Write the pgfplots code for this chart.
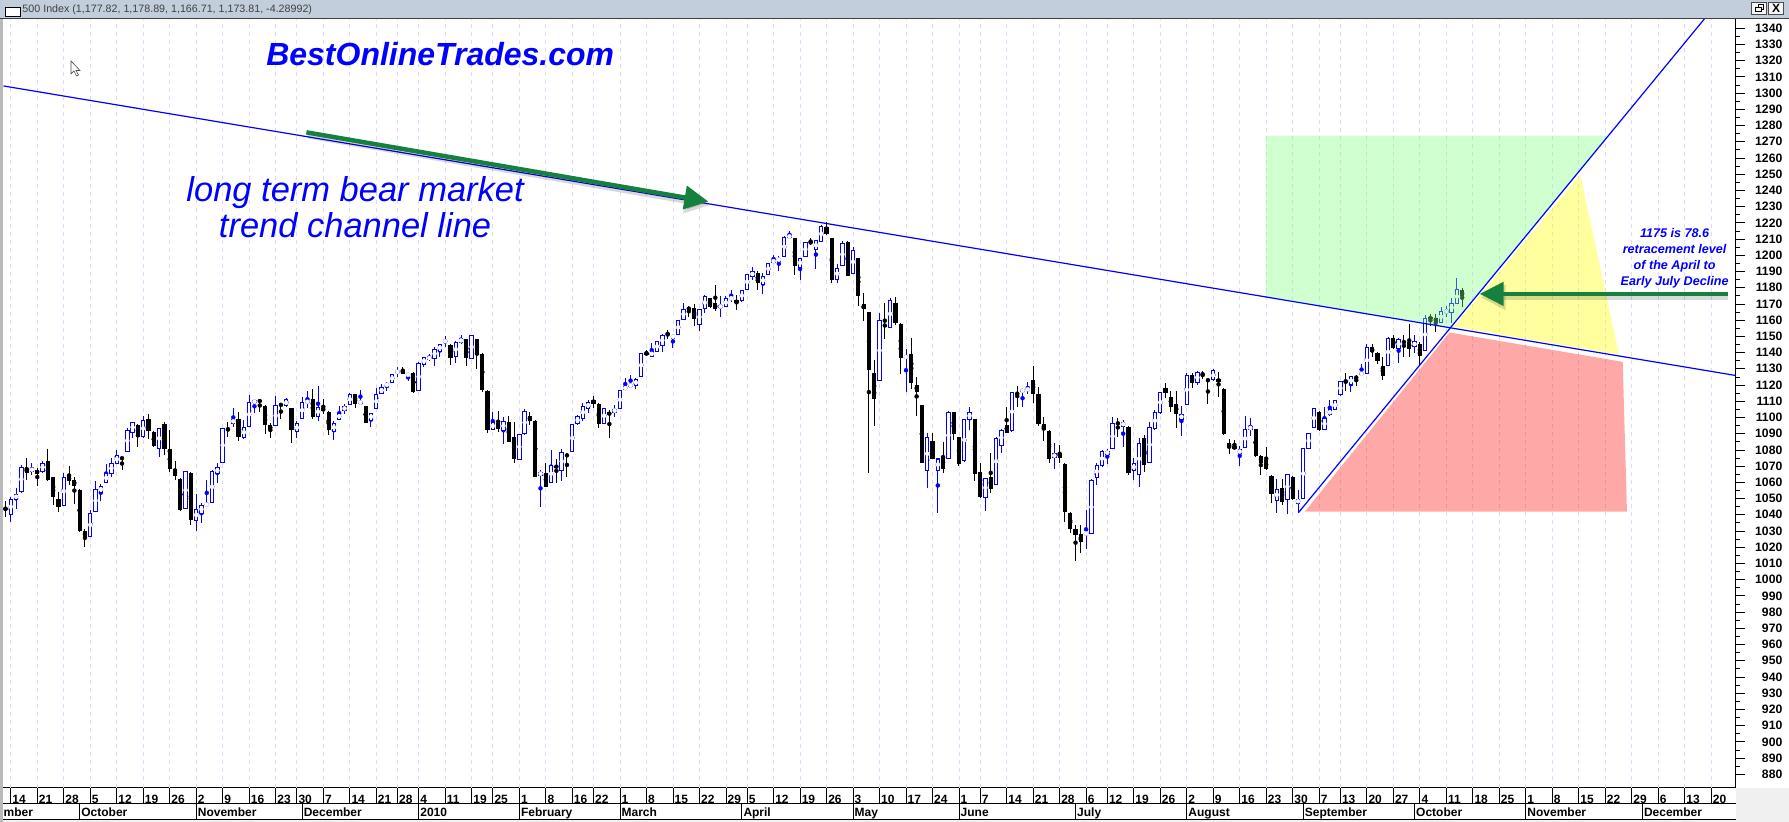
\documentclass[border=0pt]{standalone}
\usepackage{fontspec}
\setmainfont{Liberation Sans}
\usepackage{pgfplots}
\usepackage{pgfplotstable}
\pgfplotsset{compat=1.18}
\usetikzlibrary{arrows.meta}

\definecolor{candleblue}{RGB}{0,0,255}
\definecolor{arrowgreen}{RGB}{22,128,62}
\definecolor{gridlav}{RGB}{220,220,250}
\definecolor{titlebar}{RGB}{194,206,220}
\definecolor{zonegreen}{RGB}{128,255,128}
\definecolor{zonered}{RGB}{255,20,20}
\definecolor{zoneyellow}{RGB}{255,255,0}

% t = trading day (0 = Mon 14 Sep 2009), o h l c
\pgfplotstableread{
t o h l c
0 1040.3 1051.2 1035.8 1049.6
1 1049.6 1056.4 1043.8 1052.7
2 1054.5 1070.8 1053.7 1069.3
4 1066.9 1071.8 1064.6 1068.7
6 1066.9 1073.4 1066.0 1071.8
10 1045.9 1065.6 1045.5 1063.2
15 1026.6 1043.0 1026.0 1041.0
16 1042.2 1060.9 1041.5 1055.3
17 1053.9 1059.0 1048.2 1057.6
18 1059.9 1071.4 1059.5 1065.6
19 1065.6 1074.9 1063.2 1071.8
20 1071.8 1080.0 1071.4 1076.7
22 1079.2 1093.8 1079.0 1092.1
23 1090.9 1097.5 1087.2 1097.1
25 1088.2 1101.0 1087.2 1098.3
28 1080.8 1093.8 1075.5 1093.4
33 1044.0 1066.9 1043.6 1066.4
35 1036.4 1052.7 1030.3 1043.4
36 1041.0 1047.1 1034.8 1045.9
37 1045.9 1061.5 1045.5 1046.7
38 1047.5 1067.7 1047.2 1066.9
39 1065.2 1071.8 1059.9 1069.3
40 1072.4 1093.8 1072.0 1093.4
42 1096.4 1105.7 1094.4 1098.9
44 1087.8 1098.3 1086.6 1094.0
45 1094.4 1114.1 1094.0 1109.4
46 1109.2 1110.8 1103.0 1110.4
50 1095.2 1113.3 1094.8 1107.1
52 1107.1 1112.1 1106.7 1111.0
54 1091.5 1097.9 1087.2 1096.0
55 1099.5 1112.5 1099.0 1109.4
56 1109.4 1116.4 1106.1 1110.0
58 1100.7 1119.2 1097.7 1106.3
61 1091.5 1097.9 1086.4 1096.4
62 1098.9 1106.9 1098.5 1102.6
63 1104.4 1108.6 1102.2 1106.7
64 1108.1 1115.1 1107.7 1114.3
66 1109.0 1117.0 1108.7 1109.4
68 1098.3 1103.0 1094.4 1102.6
69 1105.7 1118.4 1105.3 1114.3
70 1114.9 1120.7 1114.5 1118.6
71 1119.2 1122.1 1116.6 1121.1
72 1121.7 1127.0 1121.3 1126.6
73 1127.7 1131.4 1124.8 1128.5
75 1126.0 1127.0 1122.5 1126.6
77 1116.8 1134.4 1116.4 1133.4
78 1132.8 1137.5 1131.0 1136.9
79 1135.9 1139.2 1134.9 1137.5
80 1136.5 1143.3 1132.0 1142.1
81 1140.8 1145.5 1137.1 1145.1
82 1146.4 1150.3 1143.3 1147.6
84 1137.5 1147.4 1133.8 1146.4
85 1146.4 1150.9 1145.1 1148.6
87 1136.3 1150.9 1136.0 1150.5
91 1092.7 1103.2 1092.3 1096.8
93 1091.9 1100.5 1083.7 1097.7
96 1074.2 1090.0 1073.8 1089.6
97 1090.1 1105.1 1089.0 1103.8
100 1064.4 1067.5 1045.1 1066.2
102 1060.1 1079.8 1059.7 1070.5
104 1067.5 1080.4 1061.1 1078.5
106 1079.2 1095.8 1078.8 1095.4
107 1096.4 1101.8 1095.6 1100.3
108 1099.5 1108.8 1098.1 1106.9
109 1105.7 1110.9 1102.6 1109.4
112 1096.3 1106.1 1095.9 1105.7
114 1103.3 1107.8 1100.2 1105.1
115 1105.5 1117.0 1105.1 1116.4
116 1117.4 1124.2 1117.0 1118.9
117 1119.5 1126.3 1119.1 1119.9
118 1119.5 1124.2 1117.4 1123.6
119 1125.3 1139.6 1125.0 1139.2
121 1137.6 1145.8 1137.2 1140.9
122 1140.9 1147.0 1140.5 1146.6
123 1144.4 1151.6 1140.3 1150.7
125 1148.9 1151.1 1142.7 1150.7
126 1151.1 1160.4 1150.7 1160.0
127 1160.6 1170.5 1160.2 1166.8
130 1157.5 1166.8 1153.6 1166.4
131 1167.0 1175.6 1164.7 1174.8
134 1168.0 1174.6 1162.2 1168.8
135 1168.2 1175.0 1168.0 1173.5
136 1173.2 1178.7 1171.5 1173.8
138 1171.9 1178.9 1171.5 1178.5
139 1178.9 1188.7 1178.5 1188.3
140 1186.7 1192.7 1184.8 1190.2
142 1182.2 1189.0 1176.0 1186.9
143 1188.3 1195.5 1188.0 1195.1
144 1195.7 1200.1 1195.3 1197.0
145 1196.4 1199.6 1190.0 1198.2
146 1199.4 1211.6 1199.0 1211.2
147 1210.9 1214.9 1210.5 1212.4
149 1192.7 1198.4 1184.8 1198.0
150 1199.4 1208.5 1199.0 1208.1
152 1203.3 1209.5 1191.4 1209.1
153 1208.7 1218.8 1208.3 1217.7
156 1185.3 1194.7 1182.8 1192.0
157 1193.7 1209.1 1193.3 1207.5
159 1189.0 1205.4 1188.6 1202.9
164 1122.9 1164.3 1122.5 1159.7
166 1155.6 1173.5 1155.2 1172.1
169 1137.0 1142.3 1116.0 1137.6
173 1067.5 1090.5 1056.8 1087.8
175 1067.5 1074.8 1041.4 1074.4
177 1074.8 1103.8 1074.4 1103.2
180 1073.4 1099.3 1072.8 1098.9
181 1098.9 1106.7 1092.3 1103.2
184 1050.8 1062.9 1042.6 1062.5
186 1058.8 1088.2 1058.4 1087.2
187 1082.9 1092.9 1077.9 1092.1
189 1091.7 1115.9 1091.3 1115.5
191 1116.2 1117.0 1106.7 1116.8
192 1116.6 1121.9 1114.5 1118.2
197 1075.5 1084.5 1068.5 1077.5
203 1028.3 1043.0 1019.0 1028.6
204 1028.6 1061.9 1028.2 1060.9
205 1062.9 1071.8 1058.4 1070.5
206 1070.5 1080.0 1069.7 1078.8
207 1077.3 1080.6 1071.2 1079.2
208 1080.8 1100.3 1080.4 1096.0
210 1094.6 1098.5 1081.6 1097.1
212 1067.0 1074.8 1061.5 1071.8
213 1065.0 1087.2 1057.4 1084.1
215 1072.4 1097.5 1072.0 1094.0
216 1092.9 1104.7 1092.5 1103.2
217 1103.2 1116.0 1102.0 1115.6
221 1098.9 1107.1 1088.6 1102.0
222 1108.2 1127.7 1107.8 1126.0
224 1121.5 1128.7 1120.1 1127.7
227 1123.2 1129.9 1122.8 1128.7
232 1078.0 1082.5 1070.1 1080.0
233 1081.4 1101.0 1081.0 1092.7
234 1092.7 1099.9 1088.6 1094.4
239 1048.8 1061.9 1041.0 1055.8
241 1049.6 1065.4 1040.5 1065.0
243 1047.1 1055.3 1041.4 1049.6
244 1050.2 1081.4 1049.8 1080.6
245 1081.0 1090.7 1080.6 1090.3
246 1094.0 1105.7 1093.6 1105.3
248 1092.7 1106.7 1092.3 1099.5
249 1101.6 1110.8 1101.2 1104.7
250 1105.1 1111.0 1104.7 1110.2
251 1113.9 1122.5 1113.5 1122.1
253 1120.1 1125.6 1115.4 1125.2
255 1126.7 1132.8 1126.3 1127.1
256 1127.3 1145.4 1126.9 1143.3
260 1132.0 1149.8 1131.6 1148.8
262 1142.5 1149.0 1133.4 1148.2
265 1143.7 1150.9 1139.6 1146.8
267 1141.2 1163.2 1140.8 1161.2
270 1158.8 1168.4 1158.1 1165.3
271 1165.2 1168.7 1162.0 1165.5
272 1164.9 1173.5 1158.1 1170.5
273 1170.5 1185.9 1170.1 1178.7
}\upcandles

\pgfplotstableread{
t o h l c
-1 1044.3 1048.2 1038.9 1043.3
3 1068.3 1074.9 1061.5 1066.0
5 1067.5 1068.7 1057.8 1065.4
7 1073.2 1080.4 1061.0 1061.5
8 1063.2 1063.6 1046.3 1051.2
9 1049.8 1054.1 1042.0 1045.1
11 1064.0 1070.1 1058.4 1061.1
12 1061.5 1063.2 1046.7 1057.8
13 1055.3 1055.8 1029.5 1030.3
14 1030.1 1031.1 1020.4 1026.0
21 1075.5 1075.9 1067.3 1074.3
24 1095.4 1095.8 1082.1 1088.2
26 1099.1 1102.2 1086.8 1091.9
27 1091.1 1091.5 1081.7 1082.1
29 1096.0 1097.1 1076.9 1080.4
30 1080.4 1092.3 1066.2 1068.1
31 1068.1 1073.2 1061.5 1064.2
32 1062.1 1062.5 1042.6 1043.0
34 1065.8 1066.2 1033.8 1036.9
41 1093.0 1097.1 1088.2 1092.4
43 1098.9 1103.4 1085.6 1088.2
47 1110.4 1111.2 1103.6 1109.9
48 1107.1 1107.5 1089.5 1095.6
49 1095.4 1096.9 1087.6 1092.0
51 1108.0 1108.4 1098.9 1107.6
53 1105.7 1106.0 1084.5 1092.3
57 1111.2 1117.6 1099.3 1100.5
59 1105.7 1111.2 1102.0 1104.2
60 1103.4 1103.8 1089.2 1092.3
65 1114.3 1114.7 1106.1 1108.6
67 1106.9 1107.3 1096.4 1096.8
74 1129.3 1131.2 1126.6 1127.0
76 1127.5 1128.3 1115.1 1116.0
83 1144.7 1145.0 1132.6 1136.9
86 1148.2 1148.6 1132.0 1136.9
88 1148.2 1148.6 1130.1 1138.6
89 1139.2 1139.6 1116.0 1117.0
90 1116.4 1116.8 1090.7 1092.5
92 1096.4 1104.0 1090.9 1092.9
94 1097.0 1100.9 1084.7 1085.1
95 1087.8 1097.0 1072.2 1074.6
98 1101.0 1103.4 1095.2 1097.9
99 1097.9 1098.3 1063.1 1063.5
101 1065.8 1072.0 1057.0 1057.4
103 1070.3 1074.4 1059.8 1069.1
105 1077.0 1078.0 1063.5 1076.3
110 1110.9 1113.3 1106.1 1108.6
111 1108.4 1108.8 1093.4 1095.9
113 1103.3 1104.7 1087.2 1101.4
120 1140.0 1141.7 1137.6 1138.8
124 1152.0 1154.0 1148.3 1151.1
128 1167.6 1168.8 1162.2 1166.6
129 1167.6 1170.1 1156.1 1161.0
132 1173.5 1173.9 1167.4 1168.2
133 1170.5 1181.8 1165.9 1166.6
137 1172.5 1175.6 1166.4 1170.3
141 1189.0 1190.6 1178.7 1183.2
148 1210.5 1210.9 1187.9 1193.1
151 1208.2 1210.5 1206.4 1207.6
154 1217.7 1220.4 1212.6 1213.2
155 1210.5 1210.9 1182.8 1184.8
158 1207.9 1209.1 1187.1 1187.5
160 1198.2 1198.6 1168.8 1174.6
161 1169.8 1176.6 1159.4 1166.8
162 1164.9 1165.3 1066.0 1129.0
163 1127.3 1135.5 1095.0 1111.6
165 1157.0 1170.8 1148.6 1156.4
167 1170.4 1174.1 1157.1 1158.5
168 1157.7 1158.1 1126.9 1136.5
170 1139.0 1148.8 1117.4 1121.5
171 1120.1 1124.8 1101.2 1116.0
172 1107.5 1107.9 1071.8 1072.2
174 1085.3 1090.5 1074.3 1074.7
176 1076.3 1085.1 1066.0 1068.5
178 1103.2 1103.6 1085.8 1090.1
179 1087.8 1088.2 1070.1 1071.6
182 1098.9 1099.3 1061.1 1065.4
183 1066.4 1072.2 1050.6 1051.2
185 1063.1 1078.4 1053.3 1056.2
188 1095.4 1106.3 1090.3 1090.7
190 1115.0 1119.7 1106.7 1114.4
193 1123.2 1131.8 1109.2 1114.3
194 1114.3 1118.6 1094.8 1096.0
195 1096.0 1100.5 1085.8 1092.3
196 1091.7 1092.1 1072.2 1074.7
198 1078.1 1083.1 1072.2 1075.3
199 1071.6 1072.0 1035.8 1042.0
200 1041.2 1041.6 1029.0 1031.5
201 1031.1 1033.8 1011.8 1027.6
202 1028.2 1033.6 1016.3 1023.3
209 1096.8 1099.5 1088.2 1096.0
211 1094.2 1094.6 1064.6 1065.6
214 1087.2 1089.2 1066.2 1070.5
218 1118.0 1121.5 1111.9 1114.9
219 1112.9 1116.4 1103.6 1106.7
220 1108.4 1116.4 1093.8 1102.2
223 1126.0 1127.7 1118.0 1121.5
225 1126.9 1128.7 1123.6 1126.5
226 1123.3 1123.8 1108.2 1122.7
228 1123.6 1128.3 1112.5 1122.1
229 1117.6 1118.0 1089.5 1089.9
230 1084.1 1086.6 1077.3 1081.6
231 1082.5 1086.2 1080.0 1080.4
235 1092.7 1093.1 1075.9 1076.3
236 1076.3 1076.7 1064.6 1072.2
237 1073.8 1081.6 1067.7 1068.1
238 1064.0 1064.4 1047.5 1052.7
240 1056.4 1061.9 1046.1 1048.1
242 1063.6 1064.0 1049.2 1049.6
247 1103.4 1103.8 1091.9 1092.3
252 1122.5 1127.7 1116.4 1122.1
254 1124.8 1126.2 1119.7 1124.4
257 1143.3 1145.4 1137.1 1140.6
258 1140.0 1140.4 1133.0 1135.1
259 1131.8 1137.5 1123.2 1125.8
261 1148.8 1150.9 1142.1 1143.1
263 1147.2 1150.9 1137.5 1145.8
264 1146.8 1157.5 1137.5 1142.1
266 1145.2 1146.8 1132.4 1138.2
268 1161.6 1163.6 1156.1 1161.0
269 1161.6 1164.0 1152.5 1159.0
274 1178.3 1179.7 1168.0 1174.6
}\downcandles

\newcommand{\labfont}{\fontsize{12}{12}\selectfont\bfseries}

\begin{document}
\begin{tikzpicture}
\begin{axis}[
  name=ax,
  scale only axis,
  width=1733pt, height=769pt,
  xmin=-1.377, xmax=325.6,
  ymin=871.8, ymax=1345.7,
  axis x line*=bottom,
  axis y line*=right,
  axis line style={black, line width=1pt},
  clip mode=individual,
  tick align=outside,
  tick style={black, line width=0.8pt},
  major tick length=9pt,
  minor tick length=4pt,
  xtick=\empty,
  extra x ticks={0,5,10,15,20,25,30,35,40,45,50,54,59,64,69,73,77,82,87,91,96,101,106,110,115,120,125,130,135,139,144,149,154,159,164,169,174,179,183,188,193,198,203,207,212,217,222,227,232,237,242,247,251,256,261,266,271,276,281,286,291,296,301,306,311,316,321},
  extra x tick labels={14,21,28,5,12,19,26,2,9,16,23,30,7,14,21,28,4,11,19,25,1,8,16,22,1,8,15,22,29,5,12,19,26,3,10,17,24,1,7,14,21,28,6,12,19,26,2,9,16,23,30,7,13,20,27,4,11,18,25,1,8,15,22,29,6,13,20},
  extra x tick style={major tick length=16pt, grid=major},
  major x grid style={gridlav, dash pattern=on 4pt off 4pt, line width=0.8pt},
  xticklabel style={font=\labfont, anchor=base west, inner sep=0pt, xshift=1.5pt},
  ytick={880,890,...,1340},
  minor y tick num=1,
  yticklabel style={font=\fontsize{12.2}{12}\selectfont\bfseries, anchor=east, inner sep=0pt, xshift=38pt},
  /pgf/number format/1000 sep={},
  /pgf/number format/assume math mode=true,
]
% down candles: wick + filled body
\addplot[black, only marks, mark=none, forget plot,
  error bars/.cd, y dir=both, y explicit, error mark=none,
  error bar style={black, line width=1pt}]
  table[x=t, y expr={(\thisrow{h}+\thisrow{l})/2}, y error expr={(\thisrow{h}-\thisrow{l})/2}] {\downcandles};
\addplot[black, only marks, mark=none, forget plot,
  error bars/.cd, y dir=both, y explicit, error mark=none,
  error bar style={black, line width=4.2pt}]
  table[x=t, y expr={(\thisrow{o}+\thisrow{c})/2}, y error expr={max((\thisrow{o}-\thisrow{c})/2,0.35)}] {\downcandles};
% up candles: wick + hollow blue body
\addplot[candleblue, only marks, mark=none, forget plot,
  error bars/.cd, y dir=both, y explicit, error mark=none,
  error bar style={candleblue, line width=1pt}]
  table[x=t, y expr={(\thisrow{h}+\thisrow{l})/2}, y error expr={(\thisrow{h}-\thisrow{l})/2}] {\upcandles};
\addplot[candleblue, only marks, mark=none, forget plot,
  error bars/.cd, y dir=both, y explicit, error mark=none,
  error bar style={candleblue, line width=4.4pt}]
  table[x=t, y expr={(\thisrow{o}+\thisrow{c})/2}, y error expr={(\thisrow{c}-\thisrow{o})/2+0.31}] {\upcandles};
\addplot[white, only marks, mark=none, forget plot,
  error bars/.cd, y dir=both, y explicit, error mark=none,
  error bar style={white, line width=2.4pt}]
  table[x=t, y expr={(\thisrow{o}+\thisrow{c})/2}, y error expr={max((\thisrow{c}-\thisrow{o})/2-0.31,0)}] {\upcandles};

% shaded zones
\addplot[draw=none, fill=zonegreen, fill opacity=0.37, forget plot]
  coordinates {(236.9,1273.8) (301.7,1273.8) (271.8,1155.6) (236.9,1174.6)};
\addplot[draw=none, fill=zoneyellow, fill opacity=0.38, forget plot]
  coordinates {(272.4,1155.9) (296.3,1249.5) (303.6,1138.8)};
\addplot[draw=none, fill=zonered, fill opacity=0.37, forget plot]
  coordinates {(244.3,1042.0) (305.1,1042.0) (304.3,1134.3) (271.6,1152.4)};

% trend lines
\addplot[candleblue, line width=1.2pt, forget plot] coordinates {(-1.377,1304.4) (325.6,1125.9)};
\addplot[candleblue, line width=1.2pt, forget plot] coordinates {(243.1,1041.4) (322,1354.8)};

% arrows with a soft shadow
\addplot[black, opacity=0.15, line width=5.5pt, xshift=1.5pt, yshift=-3.5pt,
  -{Triangle[length=25pt, width=24pt]}, forget plot] coordinates {(55.8,1275.8) (131.7,1233.1)};
\addplot[arrowgreen, line width=4.5pt,
  -{Triangle[length=24pt, width=23pt]}, forget plot] coordinates {(55.8,1275.8) (131.7,1233.1)};
\addplot[black, opacity=0.15, line width=5.5pt, xshift=1pt, yshift=-3.5pt,
  -{Triangle[length=25pt, width=24pt]}, forget plot] coordinates {(324.0,1176.2) (277.3,1176.2)};
\addplot[arrowgreen, line width=4.5pt,
  -{Triangle[length=24pt, width=23pt]}, forget plot] coordinates {(324.2,1176.2) (277.3,1176.2)};

% texts
\node[anchor=west, inner sep=0pt, text=candleblue, font=\fontsize{32}{32}\selectfont\bfseries\itshape]
  at (axis cs:48.2,1323.8) {BestOnlineTrades.com};
\node[align=center, inner sep=0pt, text=candleblue, font=\fontsize{34.5}{35.5}\selectfont\itshape]
  at (axis cs:65.0,1229.6) {long term bear market\\trend channel line};
\node[align=center, inner sep=0pt, text=candleblue, font=\fontsize{12.6}{16.1}\selectfont\bfseries\itshape]
  at (axis cs:314.1,1198.3) {1175 is 78.6\\retracement level\\of the April to\\Early July Decline};

% month row
\pgfplotsinvokeforeach{13,35,55,77,96,115,138,159,179,201,222,244,265,286,308}{
  \draw[black, line width=0.8pt] ([yshift=-16pt]axis cs:#1,871.8) -- ([yshift=-32pt]axis cs:#1,871.8);
}
\node[anchor=base west, inner sep=0pt, font=\labfont] at ([yshift=-28.5pt]axis cs:-1.377,871.8) {mber};
\node[anchor=base west, inner sep=0pt, font=\labfont] at ([xshift=1.5pt,yshift=-28.5pt]axis cs:13,871.8) {October};
\node[anchor=base west, inner sep=0pt, font=\labfont] at ([xshift=1.5pt,yshift=-28.5pt]axis cs:35,871.8) {November};
\node[anchor=base west, inner sep=0pt, font=\labfont] at ([xshift=1.5pt,yshift=-28.5pt]axis cs:55,871.8) {December};
\node[anchor=base west, inner sep=0pt, font=\labfont] at ([xshift=1.5pt,yshift=-28.5pt]axis cs:77,871.8) {2010};
\node[anchor=base west, inner sep=0pt, font=\labfont] at ([xshift=1.5pt,yshift=-28.5pt]axis cs:96,871.8) {February};
\node[anchor=base west, inner sep=0pt, font=\labfont] at ([xshift=1.5pt,yshift=-28.5pt]axis cs:115,871.8) {March};
\node[anchor=base west, inner sep=0pt, font=\labfont] at ([xshift=1.5pt,yshift=-28.5pt]axis cs:138,871.8) {April};
\node[anchor=base west, inner sep=0pt, font=\labfont] at ([xshift=1.5pt,yshift=-28.5pt]axis cs:159,871.8) {May};
\node[anchor=base west, inner sep=0pt, font=\labfont] at ([xshift=1.5pt,yshift=-28.5pt]axis cs:179,871.8) {June};
\node[anchor=base west, inner sep=0pt, font=\labfont] at ([xshift=1.5pt,yshift=-28.5pt]axis cs:201,871.8) {July};
\node[anchor=base west, inner sep=0pt, font=\labfont] at ([xshift=1.5pt,yshift=-28.5pt]axis cs:222,871.8) {August};
\node[anchor=base west, inner sep=0pt, font=\labfont] at ([xshift=1.5pt,yshift=-28.5pt]axis cs:244,871.8) {September};
\node[anchor=base west, inner sep=0pt, font=\labfont] at ([xshift=1.5pt,yshift=-28.5pt]axis cs:265,871.8) {October};
\node[anchor=base west, inner sep=0pt, font=\labfont] at ([xshift=1.5pt,yshift=-28.5pt]axis cs:286,871.8) {November};
\node[anchor=base west, inner sep=0pt, font=\labfont] at ([xshift=1.5pt,yshift=-28.5pt]axis cs:308,871.8) {December};
\end{axis}

% frame pieces around the plot
\draw[black, line width=0.8pt] ([yshift=-16pt]ax.south west) -- ([yshift=-16pt]ax.south east);
\draw[black, line width=0.8pt] ([yshift=-32pt]ax.south west) -- ([yshift=-32pt]ax.south east);
\fill[gray!12] (ax.south east) rectangle ([xshift=53pt,yshift=-34pt]ax.south east);
\fill[gray!12] ([yshift=-32.4pt]ax.south west) rectangle ([yshift=-34pt]ax.south east);
\fill[gray!55] ([xshift=-3pt,yshift=-34pt]ax.south west) rectangle ([xshift=-0.8pt]ax.north west);
% title bar
\fill[titlebar] ([xshift=-3pt]ax.north west) rectangle ([xshift=53pt,yshift=19pt]ax.north east);
\draw[gray!50!black, line width=1pt] ([xshift=-3pt]ax.north west) -- ([xshift=53pt]ax.north east);
\draw[black, fill=white, line width=0.8pt] ([xshift=1.6pt,yshift=3pt]ax.north west) rectangle ([xshift=16.9pt,yshift=11.3pt]ax.north west);
\node[anchor=west, inner sep=0pt, text=black!75, font=\fontsize{10.7}{12}\selectfont]
  at ([xshift=18.8pt,yshift=9.5pt]ax.north west) {500 Index (1,177.82, 1,178.89, 1,166.71, 1,173.81, -4.28992)};
\draw[gray!60!black, fill=gray!8, line width=0.6pt] ([xshift=16pt,yshift=5pt]ax.north east) rectangle ([xshift=31pt,yshift=17pt]ax.north east);
\draw[black, line width=0.7pt] ([xshift=20pt,yshift=7.5pt]ax.north east) rectangle ([xshift=25.5pt,yshift=12pt]ax.north east);
\draw[black, line width=0.7pt] ([xshift=22.5pt,yshift=12pt]ax.north east) -- ([xshift=22.5pt,yshift=14.5pt]ax.north east) -- ([xshift=28pt,yshift=14.5pt]ax.north east) -- ([xshift=28pt,yshift=10pt]ax.north east) -- ([xshift=25.5pt,yshift=10pt]ax.north east);
\draw[gray!60!black, fill=gray!8, line width=0.6pt] ([xshift=33pt,yshift=5pt]ax.north east) rectangle ([xshift=48pt,yshift=17pt]ax.north east);
\node[inner sep=0pt, font=\fontsize{12}{12}\selectfont\bfseries] at ([xshift=40.5pt,yshift=11pt]ax.north east) {X};
% mouse pointer
\draw[gray!60!black, fill=white, line width=0.6pt] ([xshift=67.5pt,yshift=-42pt]ax.north west)
  -- ++(0,-13pt) -- ++(3pt,3pt) -- ++(2.5pt,-5pt) -- ++(2pt,1pt) -- ++(-2.5pt,4.5pt) -- ++(4pt,0) -- cycle;
\end{tikzpicture}
\end{document}
